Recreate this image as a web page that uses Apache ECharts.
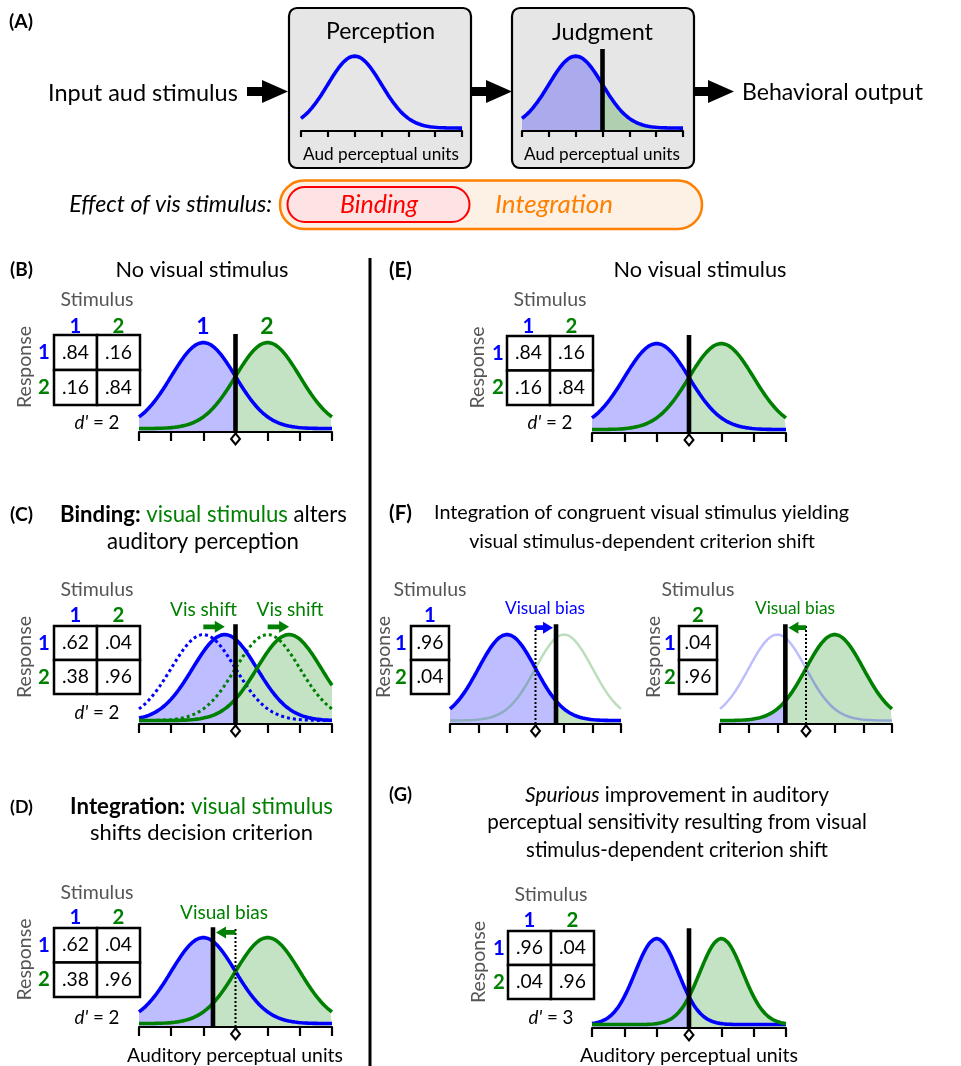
<!DOCTYPE html>
<html>
<head>
<meta charset="utf-8">
<script src="https://cdn.jsdelivr.net/npm/echarts@6/dist/echarts.min.js"></script>
<style>
  html, body { margin: 0; padding: 0; background: #fff; }
  #chart { width: 961px; height: 1066px; }
</style>
</head>
<body>
<div id="chart"></div>
<script>
const FONT = 'Lato, "Open Sans", sans-serif';
const BLUE = '#0000ff', GREEN = '#008000', ORANGE = '#ff7f00', RED = '#ff0000', GRAY = '#555555';
const FILL_B = 'rgba(0,0,255,0.26)', FILL_G = 'rgba(0,128,0,0.23)';
const FADE_B = 'rgba(0,0,255,0.26)', FADE_G = 'rgba(0,128,0,0.26)';

// ---- data ----
const axisRange = [-3, 3];              // auditory perceptual units shown on every axis
const stimulusNames = ['1', '2'];
const stimulusMeans = [-1, 1];          // no visual stimulus
const bindingMeans = [-1 / 3, 5 / 3];   // means after the visual shift (C)
const spreadBase = 1;
const spreadSpurious = 2 / 3;           // (G) narrower, d' = 3
const criterionMain = 0;
const criterionD = -0.7;
const criterionF = [0.72, -0.72];
const tableNoVis = [[0.84, 0.16], [0.16, 0.84]];
const tableBinding = [[0.62, 0.04], [0.38, 0.96]];
const tableIntegration = [[0.62, 0.04], [0.38, 0.96]];
const tableF1 = [[0.96], [0.04]];
const tableF2 = [[0.04], [0.96]];
const tableSpurious = [[0.96, 0.04], [0.04, 0.96]];
const dPrimes = [2, 2, 2, 2, 3];        // B, C, D, E, G

// sampling of the distributions
const STEP = 0.05;
const grid = [];
for (let x = axisRange[0]; x <= axisRange[1] + 1e-9; x += STEP) grid.push(+x.toFixed(4));
const density = (x, mu, sd) => Math.exp(-((x - mu) ** 2) / (2 * sd * sd));
const bell = (c) => grid.map(x => [x, density(x, c[0], c[1])]);
function envelope(curves, a, b) {
  const xs = [a, ...grid.filter(x => x > a && x < b), b];
  return xs.map(x => [x, Math.max(...curves.map(c => density(x, c[0], c[1])))]);
}

const [m1, m2] = stimulusMeans;
const [b1, b2] = bindingMeans;
const pairBase = [[m1, spreadBase, BLUE], [m2, spreadBase, GREEN]];

const plots = [
  { left: 301, right: 462, axisY: 131, unit: 72, tick: 6, solid: [[m1, spreadBase, BLUE]] },
  { left: 522, right: 683, axisY: 131, unit: 72, tick: 6, solid: [[m1, spreadBase, BLUE]], crit: criterionMain, critTop: 1.1 },
  { left: 139, right: 332, axisY: 432, unit: 86, tick: 9, solid: pairBase, crit: criterionMain, critTop: 1.1, mark: true },
  { left: 139, right: 332, axisY: 724, unit: 86, tick: 9, dotted: pairBase,
    solid: [[b1, spreadBase, BLUE], [b2, spreadBase, GREEN]], crit: criterionMain, critTop: 1.12, mark: true,
    arrows: [[m1, b1, 1.09, GREEN, 0], [m2, b2, 1.09, GREEN, 0]] },
  { left: 139, right: 332, axisY: 1027, unit: 86, tick: 9, solid: pairBase, crit: criterionD, ref: criterionMain,
    critTop: 1.12, mark: true, arrows: [[criterionMain, criterionD, 1.06, GREEN, 3]] },
  { left: 592, right: 786, axisY: 433, unit: 86, tick: 9, solid: pairBase, crit: criterionMain, critTop: 1.1, mark: true },
  { left: 450, right: 621, axisY: 724, unit: 86, tick: 9, faded: [[m2, spreadBase, FADE_G]], solid: [[m1, spreadBase, BLUE]],
    crit: criterionF[0], ref: criterionMain, critTop: 1.12, mark: true, arrows: [[criterionMain, criterionF[0], 1.08, BLUE, 3]] },
  { left: 720, right: 892, axisY: 724, unit: 86, tick: 9, faded: [[m1, spreadBase, FADE_B]], solid: [[m2, spreadBase, GREEN]],
    crit: criterionF[1], ref: criterionMain, critTop: 1.12, mark: true, arrows: [[criterionMain, criterionF[1], 1.08, GREEN, 3]] },
  { left: 592, right: 786, axisY: 1028, unit: 86, tick: 9,
    solid: [[m1, spreadSpurious, BLUE], [m2, spreadSpurious, GREEN]], crit: criterionMain, critTop: 1.12, mark: true }
];

const grids = [], xAxes = [], yAxes = [], series = [];
plots.forEach((p, i) => {
  const h = 1.2 * p.unit;
  grids.push({ left: p.left, top: p.axisY - h, width: p.right - p.left, height: h });
  xAxes.push({
    gridIndex: i, type: 'value', min: axisRange[0], max: axisRange[1], interval: 1, z: 5,
    axisLine: { onZero: false, lineStyle: { color: '#000', width: 2.2 } },
    axisTick: { length: p.tick, lineStyle: { color: '#000', width: 2.2 } },
    axisLabel: { show: false }, splitLine: { show: false }
  });
  yAxes.push({ gridIndex: i, type: 'value', min: -0.04, max: 1.16, show: false });
  const base = { xAxisIndex: i, yAxisIndex: i, symbol: 'none', silent: true, animation: false, type: 'line' };

  if (p.crit !== undefined) {
    series.push({ ...base, z: 1, data: envelope(p.solid, axisRange[0], p.crit),
      lineStyle: { width: 0, opacity: 0 }, areaStyle: { color: FILL_B, origin: 'start', opacity: 1 } });
    series.push({ ...base, z: 1, data: envelope(p.solid, p.crit, axisRange[1]),
      lineStyle: { width: 0, opacity: 0 }, areaStyle: { color: FILL_G, origin: 'start', opacity: 1 } });
  }
  (p.faded || []).forEach(c => series.push({ ...base, z: 2, data: bell(c), lineStyle: { color: c[2], width: 2.5 } }));
  (p.dotted || []).forEach(c => series.push({ ...base, z: 2, data: bell(c), lineStyle: { color: c[2], width: 3, type: [3, 3] } }));
  p.solid.forEach(c => series.push({ ...base, z: 3, data: bell(c), lineStyle: { color: c[2], width: 3.6 } }));
  if (p.ref !== undefined) {
    series.push({ ...base, z: 4, data: [[p.ref, -0.04], [p.ref, p.critTop]], lineStyle: { color: '#000', width: 2, type: [2, 2] } });
  }
  if (p.crit !== undefined) {
    series.push({ ...base, z: 4, data: [[p.crit, -0.04], [p.crit, p.critTop]], lineStyle: { color: '#000', width: 4.6, cap: 'butt' } });
  }
  (p.arrows || []).forEach(a => series.push({
    type: 'custom', xAxisIndex: i, yAxisIndex: i, z: 6, clip: false, silent: true, animation: false,
    data: [[a[0], a[1], a[2], a[4]]],
    renderItem: (params, api) => {
      const p0 = api.coord([api.value(0), api.value(2)]);
      const p1 = api.coord([api.value(1), api.value(2)]);
      const dir = Math.sign(p1[0] - p0[0]);
      const tip = p1[0] - dir * api.value(3);
      const xh = tip - dir * 10, y = p0[1];
      return { type: 'polygon', shape: { points: [[p0[0], y - 2.4], [xh, y - 2.4], [xh, y - 6], [tip, y], [xh, y + 6], [xh, y + 2.4], [p0[0], y + 2.4]] },
        style: { fill: a[3] } };
    }
  }));
  if (p.mark) {
    series.push({ type: 'scatter', xAxisIndex: i, yAxisIndex: i, z: 8, clip: false, silent: true, animation: false,
      data: [[criterionMain, -0.12]], symbol: 'diamond', symbolSize: [9, 11],
      itemStyle: { color: '#fff', borderColor: '#000', borderWidth: 2, opacity: 1 } });
  }
});

// ---- text sized to the widths measured on the figure ----
const mctx = document.createElement('canvas').getContext('2d');
function fitSize(parts, target) {
  let w = 0;
  parts.forEach(p => {
    mctx.font = (p[2] || 'normal') + ' ' + (p[1] || 'normal') + ' 100px ' + FONT;
    w += mctx.measureText(p[0]).width;
  });
  return 100 * target / w;
}

const G = [];
function text(x, y, s, size, o = {}) {
  G.push({ type: 'text', x, y, z: 20, silent: true, style: Object.assign({
    text: s, fontSize: size, fontFamily: FONT, fontWeight: 'normal', fontStyle: 'normal', fill: '#000',
    align: 'center', verticalAlign: 'middle' }, o) });
}
function ftext(x, y, s, width, o = {}) {
  text(x, y, s, fitSize([[s, o.fontWeight, o.fontStyle]], width), o);
}
// parts: [text, weight, style, colour]
function rtext(x, y, parts, width, size) {
  const fs = size || fitSize(parts, width);
  const rich = {};
  const str = parts.map((p, k) => {
    rich['s' + k] = { fontSize: fs, fontFamily: FONT, fontWeight: p[1] || 'normal', fontStyle: p[2] || 'normal', fill: p[3] || '#000' };
    return '{s' + k + '|' + p[0] + '}';
  }).join('');
  text(x, y, str, fs, { rich });
}
function bigArrow(x0, x1, y) {
  const xh = x1 - 26;
  G.push({ type: 'polygon', z: 20, silent: true, shape: { points: [[x0, y - 4.5], [xh, y - 4.5], [xh, y - 11.5], [x1, y], [xh, y + 11.5], [xh, y + 4.5], [x0, y + 4.5]] }, style: { fill: '#000' } });
}
const fmt = v => v.toFixed(2).replace(/^0/, '');

// (A)
G.push({ type: 'rect', z: 0, silent: true, shape: { x: 289, y: 8, width: 182, height: 160, r: 8 }, style: { fill: '#e6e6e6', stroke: '#000', lineWidth: 2.2 } });
G.push({ type: 'rect', z: 0, silent: true, shape: { x: 512, y: 8, width: 182, height: 160, r: 8 }, style: { fill: '#e6e6e6', stroke: '#000', lineWidth: 2.2 } });
ftext(9, 22, '(A)', 24, { fontWeight: 'bold', align: 'left' });
ftext(380.5, 32, 'Perception', 109);
ftext(602.5, 32, 'Judgment', 101);
ftext(381, 154, 'Aud perceptual units', 156);
ftext(602, 154, 'Aud perceptual units', 156);
ftext(48, 93, 'Input aud stimulus', 190, { align: 'left' });
ftext(742, 93, 'Behavioral output', 181, { align: 'left' });
bigArrow(247, 288, 91.5);
bigArrow(471, 512, 91.5);
bigArrow(694, 734, 91.5);
ftext(272, 205, 'Effect of vis stimulus:', 203, { fontStyle: 'italic', align: 'right' });
G.push({ type: 'rect', z: 0, silent: true, shape: { x: 280, y: 180.5, width: 422, height: 48.5, r: 24 }, style: { fill: '#fdf0e4', stroke: ORANGE, lineWidth: 2.5 } });
G.push({ type: 'rect', z: 1, silent: true, shape: { x: 287.5, y: 187, width: 182, height: 35, r: 17.5 }, style: { fill: '#fde3e3', stroke: RED, lineWidth: 2 } });
ftext(379, 205, 'Binding', 78, { fontStyle: 'italic', fill: RED });
ftext(554, 205, 'Integration', 118, { fontStyle: 'italic', fill: ORANGE });

// divider
G.push({ type: 'line', z: 20, silent: true, shape: { x1: 370, y1: 258, x2: 370, y2: 1066 }, style: { stroke: '#000', lineWidth: 3 } });

// panel letters
[['(B)', 10, 270], ['(C)', 10, 515], ['(D)', 10, 807], ['(E)', 389, 270], ['(F)', 389, 513], ['(G)', 389, 795]]
  .forEach(l => ftext(l[1], l[2], l[0], 23, { fontWeight: 'bold', align: 'left' }));

// titles
ftext(202, 270, 'No visual stimulus', 173);
ftext(700, 270, 'No visual stimulus', 173);
rtext(203.5, 515, [['Binding:', 'bold'], [' visual stimulus', 0, 0, GREEN], [' alters']], 287);
ftext(203, 542, 'auditory perception', 192);
rtext(201.5, 807, [['Integration:', 'bold'], [' visual stimulus', 0, 0, GREEN]], 263);
ftext(201.5, 833, 'shifts decision criterion', 223);
ftext(641.5, 513, 'Integration of congruent visual stimulus yielding', 415);
ftext(642, 542, 'visual stimulus-dependent criterion shift', 346);
rtext(677, 795, [['Spurious', 0, 'italic'], [' improvement in auditory']], 304);
ftext(677, 822, 'perceptual sensitivity resulting from visual', 380);
ftext(677, 850, 'stimulus-dependent criterion shift', 302);

// curve names over (B)
text(203, 327, stimulusNames[0], 23, { fontWeight: 'bold', fill: BLUE });
text(267, 327, stimulusNames[1], 23, { fontWeight: 'bold', fill: GREEN });

// arrow captions
ftext(203.5, 610, 'Vis shift', 67, { fill: GREEN });
ftext(290, 610, 'Vis shift', 67, { fill: GREEN });
ftext(224, 913, 'Visual bias', 88, { fill: GREEN });
ftext(545, 608, 'Visual bias', 80, { fill: BLUE });
ftext(795, 608, 'Visual bias', 80, { fill: GREEN });

// axis captions
ftext(235, 1056, 'Auditory perceptual units', 216);
ftext(689, 1056, 'Auditory perceptual units', 218);

// response tables
const tables = [
  { vals: tableNoVis, cols: [0, 1], x: 54, y: 335, cw: 43, ch: 35, stimY: 300, headY: 326, rowX: 44, respX: 25, d: dPrimes[0], dY: 423 },
  { vals: tableBinding, cols: [0, 1], x: 54, y: 626, cw: 43, ch: 34, stimY: 590, headY: 615, rowX: 44, respX: 25, d: dPrimes[1], dY: 713 },
  { vals: tableIntegration, cols: [0, 1], x: 54, y: 928, cw: 43, ch: 34.5, stimY: 893, headY: 917, rowX: 44, respX: 25, d: dPrimes[2], dY: 1018 },
  { vals: tableNoVis, cols: [0, 1], x: 507, y: 336, cw: 43, ch: 34.5, stimY: 300, headY: 326, rowX: 498, respX: 478, d: dPrimes[3], dY: 423 },
  { vals: tableF1, cols: [0], x: 411, y: 626, cw: 38, ch: 34, stimY: 590, headY: 615, rowX: 401, respX: 384 },
  { vals: tableF2, cols: [1], x: 679, y: 626, cw: 38, ch: 34, stimY: 590, headY: 615, rowX: 670, respX: 654 },
  { vals: tableSpurious, cols: [0, 1], x: 508, y: 931, cw: 43, ch: 34, stimY: 895, headY: 920, rowX: 499, respX: 479, d: dPrimes[4], dY: 1018 }
];
const nameColor = [BLUE, GREEN];
const labelSize = fitSize([['Stimulus']], 73);
const numSize = fitSize([['.84']], 27);
const dSize = fitSize([["d'", 0, 'italic'], [' = 2']], 45);
tables.forEach(t => {
  const w = t.cols.length * t.cw, cx = t.x + w / 2, cy = t.y + t.ch;
  text(cx, t.stimY, 'Stimulus', labelSize, { fill: GRAY });
  G.push({ type: 'text', x: t.respX, y: cy - 3, rotation: Math.PI / 2, z: 20, silent: true,
    style: { text: 'Response', fontSize: labelSize, fontFamily: FONT, fill: GRAY, align: 'center', verticalAlign: 'middle' } });
  t.cols.forEach((c, j) => text(t.x + (j + 0.5) * t.cw, t.headY, stimulusNames[c], numSize + 1, { fontWeight: 'bold', fill: nameColor[c] }));
  t.vals.forEach((row, r) => {
    text(t.rowX, t.y + (r + 0.5) * t.ch, stimulusNames[r], numSize + 1, { fontWeight: 'bold', fill: nameColor[r] });
    row.forEach((v, j) => {
      G.push({ type: 'rect', z: 15, silent: true, shape: { x: t.x + j * t.cw, y: t.y + r * t.ch, width: t.cw, height: t.ch },
        style: { fill: '#fff', stroke: '#000', lineWidth: 2.5 } });
      text(t.x + (j + 0.5) * t.cw, t.y + (r + 0.5) * t.ch, fmt(v), numSize);
    });
  });
  if (t.d !== undefined) {
    rtext(cx, t.dY, [["d'", 0, 'italic'], [' = ' + t.d]], 0, dSize);
  }
});

const chart = echarts.init(document.getElementById('chart'));
chart.setOption({
  animation: false,
  backgroundColor: '#fff',
  grid: grids,
  xAxis: xAxes,
  yAxis: yAxes,
  series: series,
  graphic: { elements: G }
});
</script>
</body>
</html>
